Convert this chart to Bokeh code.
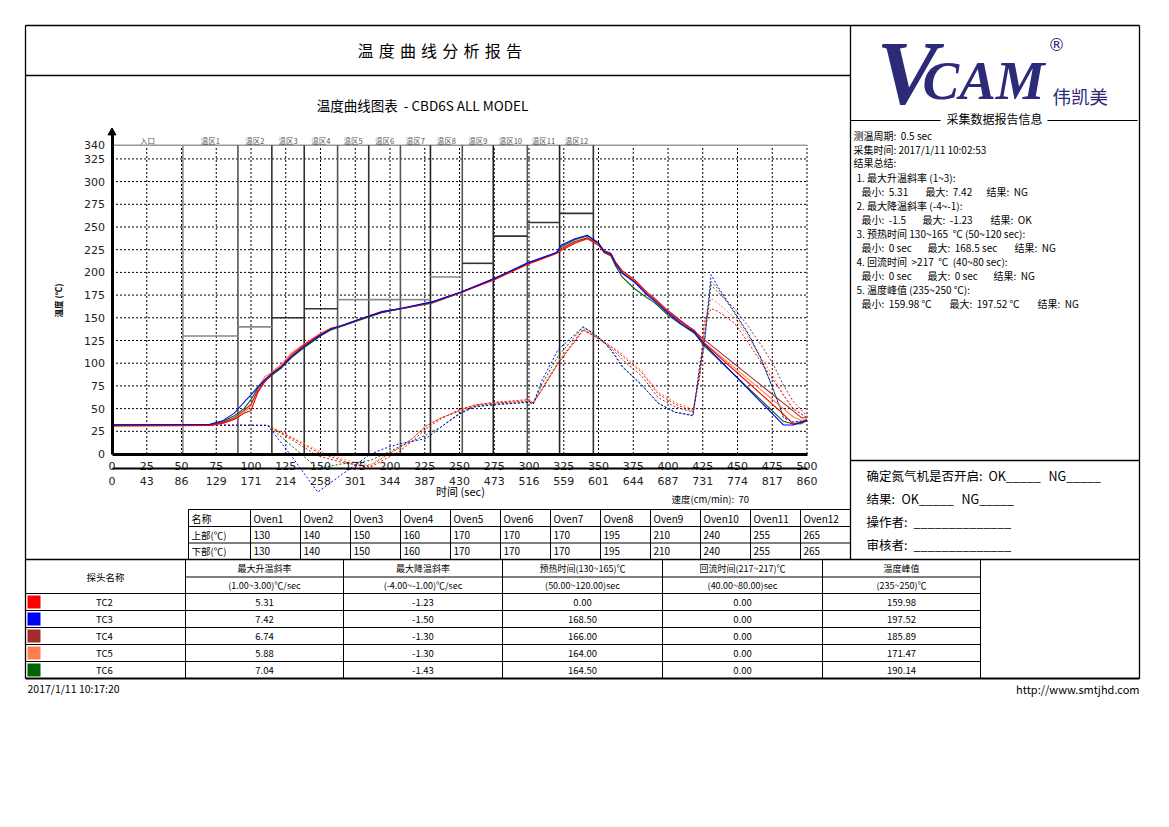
import math
from bokeh.plotting import figure
from bokeh.models import Range1d, LinearAxis, FixedTicker
from bokeh.core.properties import value
from bokeh.embed import file_html
from bokeh.resources import INLINE

CJK = "Noto Sans CJK SC"
NUMF = "DejaVu Sans"
NB = "\u00a0"

# ---------------- data ----------------
ZONE_NAMES = ["入口", "温区1", "温区2", "温区3", "温区4", "温区5", "温区6",
              "温区7", "温区8", "温区9", "温区10", "温区11", "温区12"]
ZONE_EDGES = [0, 51, 90.6, 115, 138.3, 162.3, 184.7, 207.5, 229.1, 252, 274.3, 298.8, 322, 346.3]
OVEN_NAMES = ["Oven1", "Oven2", "Oven3", "Oven4", "Oven5", "Oven6",
              "Oven7", "Oven8", "Oven9", "Oven10", "Oven11", "Oven12"]
OVEN_TOP = [130, 140, 150, 160, 170, 170, 170, 195, 210, 240, 255, 265]
OVEN_BOTTOM = [130, 140, 150, 160, 170, 170, 170, 195, 210, 240, 255, 265]
SPEED = 70

X_TICKS = [0, 25, 50, 75, 100, 125, 150, 175, 200, 225, 250, 275, 300, 325, 350,
           375, 400, 425, 450, 475, 500]
X_DIST = ["0", "43", "86", "129", "171", "214", "258", "301", "344", "387", "430",
          "473", "516", "559", "601", "644", "687", "731", "774", "817", "860"]
Y_TICKS = [0, 25, 50, 75, 100, 125, 150, 175, 200, 225, 250, 275, 300, 325, 340]

PROBES = ["TC2", "TC3", "TC4", "TC5", "TC6"]
PROBE_COLORS = ["#FF0000", "#0000FF", "#A52A2A", "#FF7F50", "#006400"]
MAX_RISE = ["5.31", "7.42", "6.74", "5.88", "7.04"]
MAX_FALL = ["-1.23", "-1.50", "-1.30", "-1.30", "-1.43"]
PREHEAT = ["0.00", "168.50", "166.00", "164.00", "164.50"]
REFLOW = ["0.00", "0.00", "0.00", "0.00", "0.00"]
PEAK = ["159.98", "197.52", "185.89", "171.47", "190.14"]

# solid profile curves (time s -> temperature)
T_SOLID = [0, 70, 80, 88, 95, 100, 105, 110, 115, 122, 129, 138, 150, 158, 165, 179, 194, 208,
           230, 251, 275, 299, 320, 323, 333, 342, 350, 354, 359, 362, 367, 376, 385, 390, 400,
           409, 419, 426, 483, 490, 496, 500]
SOLID_TC2 = [31, 31.5, 34, 38, 45, 48, 68, 80, 89, 97, 109, 120, 132, 138.5, 141, 149, 157, 160,
             167, 178, 192, 209, 221, 224, 232, 237, 230, 222, 219, 211, 200, 190, 176, 170, 156,
             146, 136, 122, 44, 33, 35, 38]
SOLID_TC3 = [32, 32.5, 37, 45, 57, 65, 74, 82, 88.5, 96, 107, 118, 131, 138, 141.5, 149, 156.5, 160.5,
             167.5, 178.5, 193, 210.5, 222, 230, 237, 241, 232, 223, 220, 210, 199, 189, 175, 169, 155,
             144, 134, 121, 32, 32, 35, 37]
SOLID_TC4 = [32, 32, 35, 40, 48, 55, 70, 80, 87, 95, 107, 119, 131, 138, 141, 148.5, 156, 160,
             167, 178, 193.5, 209.5, 221.5, 226, 234, 238, 232, 224, 221, 212, 202, 192, 178, 172, 158,
             147, 135, 126, 56, 47.5, 40, 40]
SOLID_TC5 = [31, 31.5, 34, 39, 46, 53, 73, 85, 90, 99, 111, 121, 133, 139, 141, 149, 157, 160,
             167, 178, 192, 209, 221, 225, 233, 238, 231, 223, 220, 212, 201, 191, 177, 171, 157,
             146, 136, 123, 50, 41, 37, 38]
SOLID_TC6 = [32.5, 32.5, 36, 42, 50, 60, 73, 81, 87, 95, 106, 117, 130, 137, 140.5, 148, 155.5, 160,
             166, 177.5, 193, 210, 222, 228, 236, 240, 233, 222, 218, 208, 195, 182, 172, 167, 153,
             143, 133, 119, 36, 33, 33.5, 37]

# dotted probe curves
T_DOT = [0, 112, 130, 148, 165, 176, 186, 196, 206, 216, 226, 237, 250, 261, 275, 300, 303, 309,
         321, 339, 347, 355, 361, 367, 381, 393, 405, 418, 423, 426, 431, 436, 448, 458, 467, 476,
         483, 490, 500]
DOT_TC2 = [32, 31.5, 17, 2, -7, -12.5, -14.5, -6, 2, 14, 28, 39, 49, 54, 57, 60, 56, 70,
           100, 137, 130, 122, 116, 108, 90, 66, 55, 47, 90, 145, 160, 157, 144, 122, 101, 81,
           65, 50, 40]
DOT_TC3 = [32, 31.5, -4, -42, -23, -11, 0, 6, 11, 14, 17, 30, 44, 52, 54, 57, 55, 80,
           115, 140, 132, 122, 110, 96, 76, 56, 46, 42, 100, 120, 197.5, 184, 156, 132, 105, 70,
           40, 35, 37]
DOT_TC4 = [32, 31.5, 15, -2, -9, -12, -13, -3, 6, 17, 31, 40, 47, 53, 56, 58, 56, 70,
           100, 136, 130, 121, 114, 104, 86, 62, 52, 46, 88, 130, 186, 178, 160, 140, 120, 98,
           76, 58, 42]
DOT_TC5 = [32, 31.5, 18, 4, -5, -10, -12, -2, 6, 17, 31, 40, 48, 54, 56, 59, 57, 72,
           102, 138, 131, 123, 117, 110, 92, 68, 57, 49, 85, 140, 171.5, 166, 150, 128, 106, 85,
           65, 50, 40]
DOT_TC6 = [32, 31.5, 8, -16, -11, -9, -7, 0, 7.5, 14, 21, 30, 45, 52, 55, 57, 55, 76,
           108, 140, 132, 122, 111, 97, 76, 56, 46, 43, 95, 118, 190, 182, 155, 131, 104, 70,
           42, 35, 37]

# ---------------- geometry (page pixels) ----------------
W, H = 1169, 827
X0PX, XPX = 111.5, 1.39      # time 0 at x px, px per second
Y0PX, YPX = 453.5, 0.908     # temp 0 at y px, px per degree

p = figure(width=W, height=H, output_backend="svg", toolbar_location=None,
           x_range=Range1d(-X0PX / XPX, (W - X0PX) / XPX),
           y_range=Range1d(-(H - Y0PX) / YPX, Y0PX / YPX),
           x_axis_type=None, y_axis_type=None, min_border=0)
p.outline_line_color = None
p.background_fill_color = "white"
p.border_fill_color = "white"
p.extra_x_ranges = {"px": Range1d(0, W)}
p.extra_y_ranges = {"px": Range1d(H, 0)}
PX = dict(x_range_name="px", y_range_name="px")


def txt(x, y, s, size=10, align="left", color="black", font=CJK, style="normal", angle=0):
    p.text(x=[x], y=[y], text=[s], text_font=value(font), text_font_size=f"{size}px",
           text_align=align, text_baseline="middle", text_color=color,
           text_font_style=style, angle=angle, **PX)


def segs(lst, color="black", width=1.0):
    p.segment(x0=[s[0] for s in lst], y0=[s[1] for s in lst],
              x1=[s[2] for s in lst], y1=[s[3] for s in lst],
              line_color=color, line_width=width, **PX)


# ---------------- chart (data space) ----------------
gx = X_TICKS[1:]
p.segment(x0=gx, y0=[Y_TICKS[0]] * len(gx), x1=gx, y1=[Y_TICKS[-1]] * len(gx),
          line_color="black", line_width=1, line_dash="2 2")
gy = Y_TICKS[1:-1]
p.segment(x0=[X_TICKS[0]] * len(gy), y0=gy, x1=[X_TICKS[-1]] * len(gy), y1=gy,
          line_color="black", line_width=1, line_dash="2 2")
p.segment(x0=[X_TICKS[0]], y0=[Y_TICKS[-1]], x1=[X_TICKS[-1]], y1=[Y_TICKS[-1]],
          line_color="#9a9a9a", line_width=1.5)

# zone boundaries and set temperatures
ZONE_LINE_COLORS = ["#8a8a8a", "#555555", "#333333", "#333333", "#555555", "#333333",
                    "#555555", "#222222", "#555555", "#222222", "#555555", "#222222", "#333333"]
edges = ZONE_EDGES[1:]
p.segment(x0=edges, y0=[0] * len(edges), x1=edges, y1=[Y_TICKS[-1]] * len(edges),
          line_color=ZONE_LINE_COLORS, line_width=1.6)
SET_COLORS = ["#8a8a8a", "#8a8a8a", "#333333", "#333333", "#8a8a8a", "#8a8a8a",
              "#8a8a8a", "#8a8a8a", "#333333", "#333333", "#333333", "#333333"]
p.segment(x0=ZONE_EDGES[1:-1], y0=OVEN_TOP, x1=ZONE_EDGES[2:], y1=OVEN_TOP,
          line_color=SET_COLORS, line_width=1.6)
mids = [(a + b) / 2 for a, b in zip(ZONE_EDGES[:-1], ZONE_EDGES[1:])]
p.text(x=mids, y=[345.5] * len(mids), text=ZONE_NAMES, text_font=value(CJK),
       text_font_size="7.5px", text_align="center", text_baseline="middle", text_color="#555555")

dots = [DOT_TC5, DOT_TC4, DOT_TC6, DOT_TC2, DOT_TC3]
solids = [SOLID_TC5, SOLID_TC4, SOLID_TC6, SOLID_TC2, SOLID_TC3]
cols = [PROBE_COLORS[3], PROBE_COLORS[2], PROBE_COLORS[4], PROBE_COLORS[0], PROBE_COLORS[1]]
for d, c in zip(dots, cols):
    p.line(T_DOT, d, line_color=c, line_width=1.0, line_dash="2 2")
for s, c in zip(solids, cols):
    p.line(T_SOLID, s, line_color=c, line_width=1.1)

# axes
yax = LinearAxis(fixed_location=0, bounds=(0, 352), ticker=FixedTicker(ticks=Y_TICKS),
                 axis_line_width=3, axis_line_color="black",
                 major_tick_line_color=None, minor_tick_line_color=None,
                 major_label_standoff=1, major_label_text_font=NUMF,
                 major_label_text_font_size="11px", major_label_text_color="#222222")
p.add_layout(yax, "left")
p.scatter(x=[0], y=[354], marker="triangle", size=8, fill_color="black", line_color="black")

xax = LinearAxis(fixed_location=0, bounds=(0, 500), ticker=FixedTicker(ticks=X_TICKS),
                 axis_line_width=3, axis_line_color="black",
                 major_tick_line_color=None, minor_tick_line_color=None,
                 major_label_standoff=2, major_label_text_font=NUMF,
                 major_label_text_font_size="11px", major_label_text_color="#222222")
p.add_layout(xax, "below")
xax2 = LinearAxis(fixed_location=-16.3, bounds=(0, 500), ticker=FixedTicker(ticks=X_TICKS),
                  axis_line_width=2, axis_line_color="black",
                  major_tick_line_color=None, minor_tick_line_color=None,
                  major_label_overrides={float(t): lab for t, lab in zip(X_TICKS, X_DIST)},
                  major_label_standoff=2, major_label_text_font=NUMF,
                  major_label_text_font_size="11px", major_label_text_color="#222222")
p.add_layout(xax2, "below")

# ---------------- page frame ----------------
segs([(25, 25, 1139, 25), (25, 25, 25, 678), (1139, 25, 1139, 678),
      (25, 75, 850, 75), (850, 25, 850, 559), (850, 460, 1139, 460),
      (25, 559, 1139, 559)], width=1.3)
segs([(25, 678, 1139, 678)], width=2.2)

for i, ch in enumerate("温度曲线分析报告"):
    txt(365 + i * 21.2, 49.5, ch, 16, align="center")
txt(422, 104, f"温度曲线图表{NB}{NB}-{NB}CBD6S ALL MODEL", 13.5, align="center")
txt(57, 300, "温度 (℃)", 8.5, align="center", style="bold", angle=math.pi / 2)
txt(460, 490.5, "时间 (sec)", 11, align="center")
txt(671, 498, f"速度(cm/min):{NB}{NB}{SPEED}", 9.5)

# oven table
ov_cols = [188, 250] + [300 + 50 * i for i in range(11)]
ov_rows = [509, 526, 542.5]
segs([(188, y, 850, y) for y in ov_rows], width=1)
segs([(x, 509, x, 559) for x in ov_cols], width=1)
ry = [517.5, 534, 550.5]
txt(191, ry[0], "名称", 10)
txt(191, ry[1], "上部(℃)", 9.5)
txt(191, ry[2], "下部(℃)", 9.5)
for i, nm in enumerate(OVEN_NAMES):
    x = ov_cols[i + 1] + 3
    txt(x, ry[0], nm, 10)
    txt(x, ry[1], str(OVEN_TOP[i]), 10)
    txt(x, ry[2], str(OVEN_BOTTOM[i]), 10)

# bottom table
bt_cols = [185, 343, 502, 662, 822, 980]
segs([(185, 576.5, 980, 576.5)], width=1)
segs([(25, y, 980, y) for y in [593, 610, 627, 644, 661]], width=1)
segs([(x, 559, x, 678) for x in bt_cols], width=1)
centers = [(a + b) / 2 for a, b in zip(bt_cols[:-1], bt_cols[1:])]
txt(105, 576, "探头名称", 9.5, align="center")
H1 = ["最大升温斜率", "最大降温斜率", "预热时间(130~165)℃", "回流时间(217~217)℃", "温度峰值"]
H2 = ["(1.00~3.00)℃/sec", "(-4.00~-1.00)℃/sec", "(50.00~120.00)sec", "(40.00~80.00)sec", "(235~250)℃"]
for c, a, b in zip(centers, H1, H2):
    txt(c, 568, a, 9, align="center")
    txt(c, 585, b, 9, align="center")
rows_y = [601.5, 618.5, 635.5, 652.5, 669.5]
p.rect(x=[33.5] * 5, y=rows_y, width=13, height=13, fill_color=PROBE_COLORS,
       line_color=None, **PX)
for i, y in enumerate(rows_y):
    txt(104, y, PROBES[i], 9.5, align="center")
    for c, v in zip(centers, [MAX_RISE[i], MAX_FALL[i], PREHEAT[i], REFLOW[i], PEAK[i]]):
        txt(c, y, v, 9.5, align="center")

txt(27, 688, "2017/1/11 10:17:20", 10.5)
txt(1139, 688, "http://www.smtjhd.com", 11, align="right")

# ---------------- right panel ----------------
NAVY = "#2D2A78"
txt(876, 72, "V", 92, color=NAVY, font="Liberation Serif", style="bold italic")
txt(922, 80, "CAM", 55, color=NAVY, font="Liberation Serif", style="bold italic")
txt(1056, 44, "®", 17, align="center", color=NAVY, font="DejaVu Sans")
txt(1052, 95, "伟凯美", 18.5, color=NAVY)

segs([(850, 120, 940, 120), (1047, 120, 1137, 120)], width=1.2)
txt(994, 118, "采集数据报告信息", 12, align="center")

info = [
    (853, 135, f"测温周期:{NB}{NB}0.5 sec"),
    (853, 149, "采集时间: 2017/1/11 10:02:53"),
    (853, 162, "结果总结:"),
    (856, 177, "1. 最大升温斜率 (1~3):"),
    (861, 191, f"最小:{NB}{NB}5.31"), (925, 191, f"最大:{NB}{NB}7.42"), (986, 191, f"结果:{NB}{NB}NG"),
    (856, 205, "2. 最大降温斜率 (-4~-1):"),
    (861, 219, f"最小:{NB}{NB}-1.5"), (922, 219, f"最大:{NB}{NB}-1.23"), (990, 219, f"结果:{NB}{NB}OK"),
    (856, 233, f"3. 预热时间 130~165{NB}{NB}℃ (50~120 sec):"),
    (861, 247, f"最小:{NB}{NB}0 sec"), (927, 247, f"最大:{NB}{NB}168.5 sec"), (1014, 247, f"结果:{NB}{NB}NG"),
    (856, 261, f"4. 回流时间{NB}{NB}>217{NB}{NB}℃{NB}{NB}(40~80 sec):"),
    (861, 275, f"最小:{NB}{NB}0 sec"), (927, 275, f"最大:{NB}{NB}0 sec"), (993, 275, f"结果:{NB}{NB}NG"),
    (856, 289, "5. 温度峰值 (235~250 ℃):"),
    (861, 303, f"最小:{NB}{NB}159.98 ℃"), (949, 303, f"最大:{NB}{NB}197.52 ℃"), (1037, 303, f"结果:{NB}{NB}NG"),
]
for x, y, s in info:
    txt(x, y, s, 10)

F = 12.5
txt(866, 475, "确定氮气机是否开启:", F)
txt(988, 475, "OK_____", F)
txt(1048, 475, "NG_____", F)
txt(866, 498, "结果:", F)
txt(901, 498, "OK_____", F)
txt(961, 498, "NG_____", F)
txt(866, 521, "操作者:", F)
txt(913, 521, "______________", F)
txt(866, 544, "审核者:", F)
txt(913, 544, "______________", F)

open("out.html", "w").write(file_html(p, INLINE))
